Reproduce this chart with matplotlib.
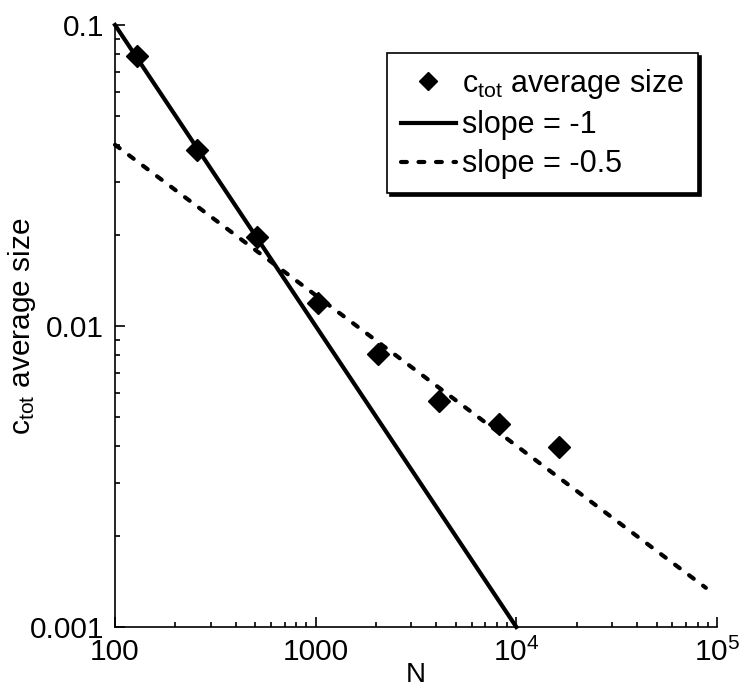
import matplotlib
matplotlib.use("Agg")
import matplotlib.pyplot as plt
from matplotlib.ticker import FixedLocator, FixedFormatter, NullFormatter, LogLocator

plt.rcParams['font.family'] = ['Liberation Sans', 'DejaVu Sans']
plt.rcParams['mathtext.fontset'] = 'custom'
plt.rcParams['mathtext.rm'] = 'Liberation Sans'
plt.rcParams['mathtext.it'] = 'Liberation Sans:italic'

# measured average size vs system size
n_vals = [128, 256, 512, 1024, 2048, 4096, 8192, 16384]
size_vals = [0.0789, 0.0384, 0.0198, 0.0119, 0.00807, 0.00563, 0.00472, 0.00396]

# reference slope lines (end points)
slope1_x = [100, 1e4]
slope1_y = [0.1, 0.001]
slope05_x = [100, 88000]
slope05_y = [0.04, 0.00135]

xticks = [100, 1000, 1e4, 1e5]
xtick_labels = ['100', '1000', r'$10^4$', r'$10^5$']
yticks = [0.001, 0.01, 0.1]
ytick_labels = ['0.001', '0.01', '0.1']

fig = plt.figure(figsize=(7.44, 6.94), dpi=100)
ax = fig.add_axes([0.1546, 0.0965, 0.8091, 0.8675])

ax.plot(n_vals, size_vals, 'D', color='black', markersize=11,
        label=r'c$_{\mathrm{tot}}$ average size', clip_on=False, zorder=3)
ax.plot(slope1_x, slope1_y, '-', color='black', lw=3,
        label='slope = -1', clip_on=False)
ax.plot(slope05_x, slope05_y, color='black', lw=3, ls=(0, (1.4, 2.8)),
        dash_capstyle='round', label='slope = -0.5', clip_on=False)

ax.set_xscale('log')
ax.set_yscale('log')
ax.set_xlim(100, 1e5)
ax.set_ylim(0.001, 0.1)

ax.xaxis.set_major_locator(FixedLocator(xticks))
ax.xaxis.set_major_formatter(FixedFormatter(xtick_labels))
ax.yaxis.set_major_locator(FixedLocator(yticks))
ax.yaxis.set_major_formatter(FixedFormatter(ytick_labels))
ax.xaxis.set_minor_locator(LogLocator(base=10, subs=range(2, 10)))
ax.yaxis.set_minor_locator(LogLocator(base=10, subs=range(2, 10)))
ax.xaxis.set_minor_formatter(NullFormatter())
ax.yaxis.set_minor_formatter(NullFormatter())

ax.tick_params(which='both', direction='in', labelsize=21.5, width=1.2, color='black')
ax.tick_params(which='major', length=7, pad=8)
ax.tick_params(which='minor', length=3.8)
ax.tick_params(axis='x', which='major', pad=8)

for side in ['top', 'right']:
    ax.spines[side].set_visible(False)
for side in ['left', 'bottom']:
    ax.spines[side].set_linewidth(1.2)

ax.set_xlabel('N', fontsize=20, labelpad=-4)
ax.set_ylabel(r'c$_{\mathrm{tot}}$ average size', fontsize=21.5, labelpad=-6)

leg = ax.legend(loc='upper right', bbox_to_anchor=(0.968, 0.953),
                borderaxespad=0, fontsize=22, frameon=True, fancybox=False,
                shadow={'color': 'black', 'alpha': 1.0},
                handlelength=1.8, handletextpad=0.2, labelspacing=0.3,
                borderpad=0.45, markerscale=0.8)
leg.get_frame().set_edgecolor('black')
leg.get_frame().set_linewidth(1.2)

plt.savefig('out.png', dpi=100)
